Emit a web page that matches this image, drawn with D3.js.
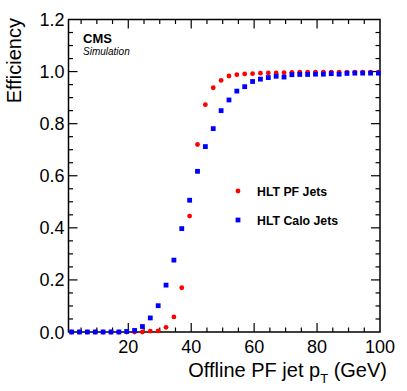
<!DOCTYPE html>
<html lang="en">
<head>
    <meta charset="UTF-8">
    <title>HLT jet efficiency</title>
    <script src="https://d3js.org/d3.v7.min.js"></script>
    <style>
        body { margin: 0; background: #fff; overflow: hidden; }
        svg { display: block; font-family: "Liberation Sans", Arial, Helvetica, sans-serif; }
        .frame { fill: none; stroke: #000; stroke-width: 1.5; }
        .tick-line { stroke: #000; stroke-width: 1.2; }
        .tick-label { font-size: 18px; fill: #000; }
        .title { font-size: 20px; fill: #000; }
    </style>
</head>
<body>
    <svg width="407" height="391"></svg>
    <script>
        // bin centres (GeV)
        const ptBins = [2, 4.5, 7, 9.5, 12, 14.5, 17, 19.5, 22, 24.5,
                        27, 29.5, 32, 34.5, 37, 39.5, 42, 44.5, 47, 49.5,
                        52, 54.5, 57, 59.5, 62, 64.5, 67, 69.5, 72, 74.5,
                        77, 79.5, 82, 84.5, 87, 89.5, 92, 94.5, 97, 99.5];

        const pfEff = [0, 0, 0, 0, 0, 0, 0, 0, 0, 0,
                       0.003, 0.004, 0.018, 0.058, 0.17, 0.445, 0.72, 0.873, 0.938, 0.966,
                       0.983, 0.988, 0.991, 0.992, 0.994, 0.995, 0.995, 0.996, 0.997, 0.998,
                       0.998, 0.998, 0.998, 0.998, 0.998, 0.998, 0.998, 0.998, 0.998, 0.998];

        const caloEff = [0, 0, 0, 0, 0, 0, 0, 0.002, 0.006, 0.021,
                         0.054, 0.101, 0.18, 0.276, 0.397, 0.506, 0.617, 0.712, 0.781, 0.85,
                         0.891, 0.925, 0.942, 0.962, 0.971, 0.977, 0.982, 0.979, 0.988, 0.989,
                         0.989, 0.990, 0.990, 0.992, 0.990, 0.993, 0.994, 0.994, 0.994, 0.994];

        const xTicks = [20, 40, 60, 80, 100];
        const yTicks = [0, 0.2, 0.4, 0.6, 0.8, 1.0, 1.2];

        const margin = { left: 68.5, right: 27, top: 19.5, bottom: 59 };
        const W = 407, H = 391;

        const svg = d3.select("svg");

        const x = d3.scaleLinear().domain([1, 100]).range([margin.left, W - margin.right]);
        const y = d3.scaleLinear().domain([0, 1.2]).range([H - margin.bottom, margin.top]);

        const [x0, x1] = x.range();
        const [y0, y1] = y.range();

        // ticks on all four sides, pointing inward
        const xMinor = d3.range(5, 100, 5).filter(v => v % 20 !== 0);
        const yMinor = d3.range(0.05, 1.2, 0.05).filter(v => Math.abs(v * 5 - Math.round(v * 5)) > 1e-6);

        const ticks = svg.append("g");
        const addX = (vals, len) => vals.forEach(v => {
            ticks.append("line").attr("class", "tick-line")
                .attr("x1", x(v)).attr("x2", x(v)).attr("y1", y0).attr("y2", y0 - len);
            ticks.append("line").attr("class", "tick-line")
                .attr("x1", x(v)).attr("x2", x(v)).attr("y1", y1).attr("y2", y1 + len);
        });
        const addY = (vals, len) => vals.forEach(v => {
            ticks.append("line").attr("class", "tick-line")
                .attr("y1", y(v)).attr("y2", y(v)).attr("x1", x0).attr("x2", x0 + len);
            ticks.append("line").attr("class", "tick-line")
                .attr("y1", y(v)).attr("y2", y(v)).attr("x1", x1).attr("x2", x1 - len);
        });
        addX(xTicks.slice(0, -1), 9);
        addX(xMinor, 4.5);
        addY(yTicks.slice(1, -1), 9);
        addY(yMinor, 4.5);

        svg.append("rect").attr("class", "frame")
            .attr("x", x0).attr("y", y1)
            .attr("width", x1 - x0).attr("height", y0 - y1);

        // tick labels
        svg.append("g").selectAll("text").data(xTicks).join("text")
            .attr("class", "tick-label")
            .attr("x", d => x(d)).attr("y", y0 + 21)
            .attr("text-anchor", "middle")
            .text(d => d);

        svg.append("g").selectAll("text").data(yTicks).join("text")
            .attr("class", "tick-label")
            .attr("x", x0 - 4).attr("y", d => y(d) + 6.5)
            .attr("text-anchor", "end")
            .text(d => d3.format(".1f")(d));

        // axis titles
        const xt = svg.append("text").attr("class", "title")
            .attr("x", 387).attr("y", 377).attr("text-anchor", "end");
        xt.append("tspan").text("Offline PF jet p");
        xt.append("tspan").attr("dy", 6).attr("font-size", "13px").text("T");
        xt.append("tspan").attr("dy", -6).text(" (GeV)");

        svg.append("text").attr("class", "title")
            .attr("transform", "translate(21,18) rotate(-90)")
            .attr("text-anchor", "end")
            .text("Efficiency");

        // CMS label
        svg.append("text").attr("x", 83).attr("y", 43)
            .attr("font-size", "13px").attr("font-weight", "bold").text("CMS");
        svg.append("text").attr("x", 83).attr("y", 55)
            .attr("font-size", "10px").attr("font-style", "italic").text("Simulation");

        // data
        const pts = ptBins.map((v, i) => ({ pt: v, pf: pfEff[i], calo: caloEff[i] }));

        svg.append("g").selectAll("circle").data(pts).join("circle")
            .attr("cx", d => x(d.pt)).attr("cy", d => y(d.pf))
            .attr("r", 2.4).attr("fill", "#ff0000");

        const s = 4.8;
        svg.append("g").selectAll("rect").data(pts).join("rect")
            .attr("x", d => x(d.pt) - s / 2).attr("y", d => y(d.calo) - s / 2)
            .attr("width", s).attr("height", s).attr("fill", "#0000ff");

        // legend
        const legend = svg.append("g");
        legend.append("circle").attr("cx", 238).attr("cy", 191).attr("r", 2.4).attr("fill", "#ff0000");
        legend.append("rect").attr("x", 238 - s / 2).attr("y", 220 - s / 2)
            .attr("width", s).attr("height", s).attr("fill", "#0000ff");
        legend.append("text").attr("x", 257).attr("y", 195.5)
            .attr("font-size", "12.3px").attr("font-weight", "bold").text("HLT PF Jets");
        legend.append("text").attr("x", 257).attr("y", 224.5)
            .attr("font-size", "12.3px").attr("font-weight", "bold").text("HLT Calo Jets");
    </script>
</body>
</html>
